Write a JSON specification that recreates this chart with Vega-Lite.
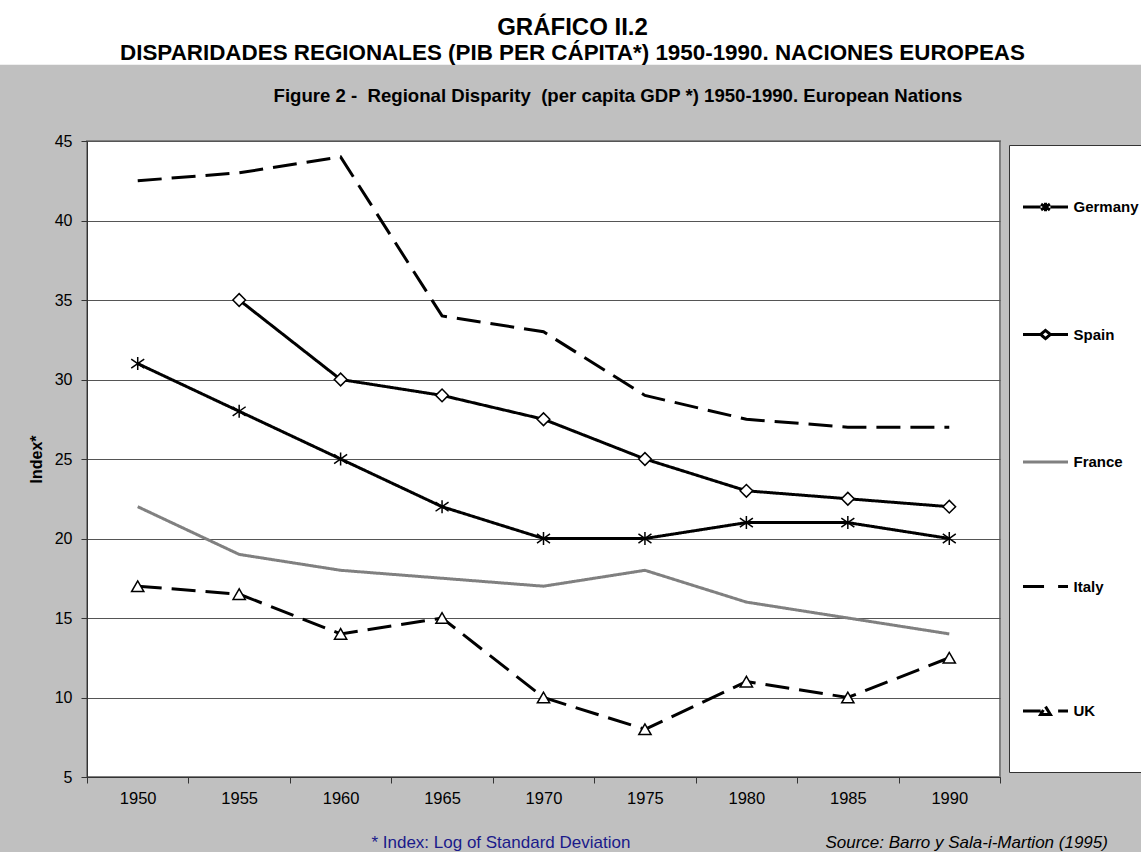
{
  "$schema": "https://vega.github.io/schema/vega-lite/v6.json",
  "width": 913,
  "height": 636,
  "autosize": {"type": "none"},
  "padding": {"left": 87, "top": 141, "right": 141, "bottom": 75},
  "background": "#c0c0c0",
  "title": {
    "text": "GRÁFICO II.2",
    "subtitle": "DISPARIDADES REGIONALES (PIB PER CÁPITA*) 1950-1990. NACIONES EUROPEAS",
    "font": "Liberation Sans",
    "fontSize": 24,
    "fontWeight": "bold",
    "color": "black",
    "subtitleFont": "Liberation Sans",
    "subtitleFontSize": 22.4,
    "subtitleFontWeight": "bold",
    "subtitleColor": "black",
    "subtitlePadding": 2,
    "anchor": "middle",
    "frame": "group",
    "dx": 29,
    "offset": -64
  },
  "config": {
    "font": "Liberation Sans",
    "view": {"fill": "white", "stroke": "#808080", "strokeWidth": 2}
  },
  "datasets": {
    "gdp": [
      {"country": "Germany", "year": 1950, "value": 31},
      {"country": "Germany", "year": 1955, "value": 28},
      {"country": "Germany", "year": 1960, "value": 25},
      {"country": "Germany", "year": 1965, "value": 22},
      {"country": "Germany", "year": 1970, "value": 20},
      {"country": "Germany", "year": 1975, "value": 20},
      {"country": "Germany", "year": 1980, "value": 21},
      {"country": "Germany", "year": 1985, "value": 21},
      {"country": "Germany", "year": 1990, "value": 20},
      {"country": "Spain", "year": 1955, "value": 35},
      {"country": "Spain", "year": 1960, "value": 30},
      {"country": "Spain", "year": 1965, "value": 29},
      {"country": "Spain", "year": 1970, "value": 27.5},
      {"country": "Spain", "year": 1975, "value": 25},
      {"country": "Spain", "year": 1980, "value": 23},
      {"country": "Spain", "year": 1985, "value": 22.5},
      {"country": "Spain", "year": 1990, "value": 22},
      {"country": "France", "year": 1950, "value": 22},
      {"country": "France", "year": 1955, "value": 19},
      {"country": "France", "year": 1960, "value": 18},
      {"country": "France", "year": 1965, "value": 17.5},
      {"country": "France", "year": 1970, "value": 17},
      {"country": "France", "year": 1975, "value": 18},
      {"country": "France", "year": 1980, "value": 16},
      {"country": "France", "year": 1985, "value": 15},
      {"country": "France", "year": 1990, "value": 14},
      {"country": "Italy", "year": 1950, "value": 42.5},
      {"country": "Italy", "year": 1955, "value": 43},
      {"country": "Italy", "year": 1960, "value": 44},
      {"country": "Italy", "year": 1965, "value": 34},
      {"country": "Italy", "year": 1970, "value": 33},
      {"country": "Italy", "year": 1975, "value": 29},
      {"country": "Italy", "year": 1980, "value": 27.5},
      {"country": "Italy", "year": 1985, "value": 27},
      {"country": "Italy", "year": 1990, "value": 27},
      {"country": "UK", "year": 1950, "value": 17},
      {"country": "UK", "year": 1955, "value": 16.5},
      {"country": "UK", "year": 1960, "value": 14},
      {"country": "UK", "year": 1965, "value": 15},
      {"country": "UK", "year": 1970, "value": 10},
      {"country": "UK", "year": 1975, "value": 8},
      {"country": "UK", "year": 1980, "value": 11},
      {"country": "UK", "year": 1985, "value": 10},
      {"country": "UK", "year": 1990, "value": 12.5}
    ]
  },
  "layer": [
    {
      "data": {"values": [{"part": "header band"}]},
      "mark": {"type": "rect", "color": "white"},
      "encoding": {
        "x": {"datum": 1943.2},
        "x2": {"datum": 1999.5},
        "y": {"datum": 49.8},
        "y2": {"datum": 53.87}
      }
    },
    {
      "data": {"name": "gdp"},
      "mark": {"type": "line", "strokeWidth": 3, "strokeCap": "butt", "strokeJoin": "miter"},
      "encoding": {
        "x": {
          "field": "year",
          "type": "quantitative",
          "scale": {"domain": [1947.5, 1992.5], "nice": false, "zero": false},
          "axis": {
            "title": null,
            "values": [1947.5, 1952.5, 1957.5, 1962.5, 1967.5, 1972.5, 1977.5, 1982.5, 1987.5, 1992.5],
            "labelExpr": "datum.value > 1990 ? '' : format(datum.value + 2.5, 'd')",
            "labelOffset": 50.7,
            "labelFlush": false,
            "labelOverlap": false,
            "grid": false,
            "tickSize": 6,
            "tickColor": "#333333",
            "domainColor": "#333333",
            "labelFontSize": 16.5,
            "labelColor": "black",
            "labelPadding": 7
          }
        },
        "y": {
          "field": "value",
          "type": "quantitative",
          "scale": {"domain": [5, 45], "nice": false, "zero": false},
          "axis": {
            "title": "Index*",
            "titleFontSize": 16,
            "titleFontWeight": "bold",
            "titleColor": "black",
            "titlePadding": 10,
            "values": [5, 10, 15, 20, 25, 30, 35, 40, 45],
            "grid": true,
            "gridColor": "#555555",
            "gridWidth": 1,
            "tickSize": 6,
            "tickColor": "#333333",
            "domainColor": "#333333",
            "labelFontSize": 16,
            "labelColor": "black",
            "labelPadding": 9
          }
        },
        "stroke": {
          "field": "country",
          "type": "nominal",
          "scale": {"domain": ["Germany", "Spain", "France", "Italy", "UK"], "range": ["black", "black", "#808080", "black", "black"]},
          "legend": {
            "title": " ",
            "titleOrient": "bottom",
            "titleFontSize": 1,
            "titlePadding": 39,
            "orient": "none",
            "legendX": 922,
            "legendY": 4,
            "fillColor": "white",
            "strokeColor": "#333333",
            "padding": 12,
            "rowPadding": 66.5,
            "symbolSize": 9409,
            "symbolStrokeWidth": 3,
            "symbolOffset": -25.5,
            "labelOffset": -22,
            "labelFont": "Liberation Sans",
            "labelFontSize": 15,
            "labelFontWeight": "bold",
            "labelColor": "black",
            "encode": {
              "symbols": {
                "update": {
                  "shape": {"signal": "datum.value === 'Germany' ? 'M-0.464,0H-0.1M0.1,0H0.464M0,-0.09V0.09M-0.09,-0.06L0.09,0.06M-0.09,0.06L0.09,-0.06' : datum.value === 'Spain' ? 'M-0.464,0H-0.1M0.1,0H0.464M0,-0.085L0.1,0L0,0.085L-0.1,0Z' : datum.value === 'Italy' ? 'M-0.464,0H-0.03M0.26,0H0.464' : datum.value === 'UK' ? 'M-0.464,0H-0.1M0,-0.09L0.1,0.07L-0.1,0.07ZM0.26,0H0.464' : 'M-0.464,0H0.464'"},
                  "fill": {"value": "white"},
                  "size": {"value": 9409},
                  "strokeWidth": {"value": 3},
                  "opacity": {"value": 1}
                }
              }
            }
          }
        },
        "strokeDash": {
          "field": "country",
          "type": "nominal",
          "scale": {"domain": ["Germany", "Spain", "France", "Italy", "UK"], "range": [[1, 0], [1, 0], [1, 0], [24, 10], [24, 10]]},
          "legend": null
        }
      }
    },
    {
      "data": {"name": "gdp"},
      "transform": [{"filter": "datum.country === 'Germany' || datum.country === 'Spain' || datum.country === 'UK'"}],
      "mark": {"type": "point", "filled": true, "fill": "white", "stroke": "black", "strokeWidth": 1.5, "opacity": 1},
      "encoding": {
        "x": {"field": "year", "type": "quantitative"},
        "y": {"field": "value", "type": "quantitative"},
        "shape": {
          "field": "country",
          "type": "nominal",
          "scale": {"domain": ["Germany", "Spain", "UK"], "range": ["M0,-1V1M-1,-0.7L1,0.7M-1,0.7L1,-0.7", "diamond", "triangle-up"]},
          "legend": null
        },
        "size": {
          "field": "country",
          "type": "nominal",
          "scale": {"domain": ["Germany", "Spain", "UK"], "range": [169, 150, 170]},
          "legend": null
        }
      }
    },
    {
      "data": {"values": [{"part": "chart title"}]},
      "mark": {"type": "text", "text": "Figure 2 -\u00a0 Regional Disparity\u00a0 (per capita GDP *) 1950-1990. European Nations", "font": "Liberation Sans", "fontSize": 18.6, "fontWeight": "bold", "align": "center", "baseline": "middle", "color": "black"},
      "encoding": {"x": {"datum": 1973.67}, "y": {"datum": 47.83}}
    },
    {
      "data": {"values": [{"part": "footnote"}]},
      "mark": {"type": "text", "text": "* Index: Log of Standard Deviation", "font": "Liberation Sans", "fontSize": 17, "align": "center", "baseline": "middle", "color": "#1a1a8a"},
      "encoding": {"x": {"datum": 1967.9}, "y": {"datum": 0.85}}
    },
    {
      "data": {"values": [{"part": "source"}]},
      "mark": {"type": "text", "text": "Source: Barro y Sala-i-Martion (1995)", "font": "Liberation Sans", "fontSize": 17, "fontStyle": "italic", "align": "right", "baseline": "middle", "color": "black"},
      "encoding": {"x": {"datum": 1997.82}, "y": {"datum": 0.85}}
    }
  ]
}
